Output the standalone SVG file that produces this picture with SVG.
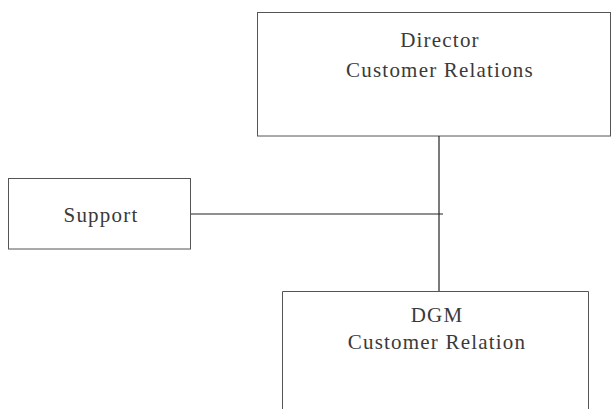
<svg xmlns="http://www.w3.org/2000/svg" width="612" height="409" viewBox="0 0 612 409">
<style>
.box{fill:#fff;stroke:#555;stroke-width:1}
.t{font-family:"Liberation Serif",serif;font-size:21px;fill:#3a3a3a;text-anchor:middle;letter-spacing:1.2px}
.c{stroke:#222;stroke-width:1.2;fill:none}
</style>
<rect width="612" height="409" fill="#fff"/>
<g id="director">
<rect class="box" x="257.5" y="12.5" width="353" height="123.5"/>
<text class="t" x="440" y="47">Director</text>
<text class="t" x="440" y="77">Customer Relations</text>
</g>
<g id="support">
<rect class="box" x="8.5" y="178.5" width="182" height="70.5"/>
<text class="t" x="101" y="222">Support</text>
</g>
<g id="dgm">
<path class="box" d="M282.5 409 V291.5 H588.5 V409"/>
<text class="t" x="437" y="322">DGM</text>
<text class="t" x="437" y="349">Customer Relation</text>
</g>
<g id="connectors">
<line class="c" x1="439" y1="136" x2="439" y2="291"/>
<line class="c" x1="191" y1="214" x2="443" y2="214"/>
</g>
</svg>
